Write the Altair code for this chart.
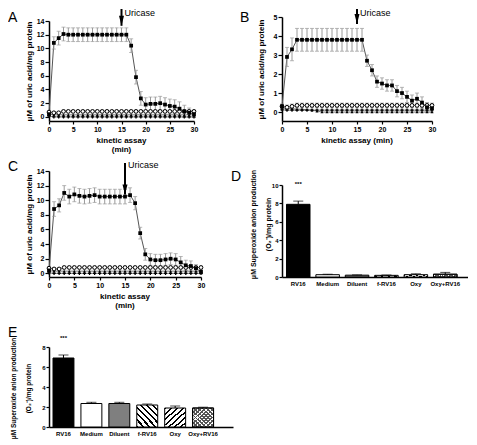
import altair as alt
import pandas as pd

FONT = "Liberation Sans"
GREY = "#9a9a9a"

# ---------------- data ----------------
minutes = [0, 1, 2, 3, 4, 5, 6, 7, 8, 9, 10, 11, 12, 13, 14, 15,
           16, 17, 18, 19, 20, 21, 22, 23, 24, 25, 26, 27, 28, 29, 30]

# Panel A
a_rv16 = [0.4, 10.8, 11.5, 12.1, 12.0, 12.0, 12.0, 12.0, 12.0, 12.0,
          12.0, 12.0, 12.0, 12.0, 12.0, 12.0, 12.0, 10.4, 5.8, 2.7,
          1.8, 1.9, 1.9, 2.0, 1.8, 1.6, 1.5, 1.2, 0.8, 0.6,
          0.4]
a_rv16_sem = [0.3, 0.9, 1.0, 1.0, 1.0, 1.0, 1.0, 1.0, 1.0, 1.0,
              1.0, 1.0, 1.0, 1.0, 1.0, 1.0, 1.0, 1.0, 1.0, 1.0,
              1.0, 1.0, 1.0, 1.0, 1.0, 1.0, 1.0, 1.0, 0.9, 0.7,
              0.5]
a_open = [0.7, 0.6, 0.6, 0.8, 0.8, 0.8, 0.8, 0.8, 0.8, 0.8,
          0.8, 0.8, 0.8, 0.8, 0.8, 0.8, 0.8, 0.8, 0.8, 0.8,
          0.8, 0.8, 0.8, 0.8, 0.8, 0.8, 0.8, 0.8, 0.8, 0.8,
          0.8]
a_open_sem = [0.2, 0.2, 0.2, 0.2, 0.2, 0.2, 0.2, 0.2, 0.2, 0.2,
              0.2, 0.2, 0.2, 0.2, 0.2, 0.2, 0.2, 0.2, 0.2, 0.2,
              0.2, 0.2, 0.2, 0.2, 0.2, 0.2, 0.2, 0.2, 0.2, 0.2,
              0.2]
a_tri = [0.4, 0.3, 0.3, 0.3, 0.3, 0.3, 0.3, 0.3, 0.3, 0.3,
         0.3, 0.3, 0.3, 0.3, 0.3, 0.3, 0.3, 0.3, 0.3, 0.3,
         0.3, 0.3, 0.3, 0.3, 0.3, 0.3, 0.3, 0.3, 0.3, 0.3,
         0.3]
a_cross = [0.1, 0.0, 0.0, 0.0, 0.0, 0.0, 0.0, 0.0, 0.0, 0.0,
           0.0, 0.0, 0.0, 0.0, 0.0, 0.0, 0.0, 0.0, 0.0, 0.0,
           0.0, 0.0, 0.0, 0.0, 0.0, 0.0, 0.0, 0.0, 0.0, 0.0,
           0.0]

# Panel B
b_rv16 = [0.3, 2.9, 3.3, 3.8, 3.8, 3.8, 3.8, 3.8, 3.8, 3.8,
          3.8, 3.8, 3.8, 3.8, 3.8, 3.8, 3.8, 2.7, 2.2, 1.6,
          1.5, 1.4, 1.4, 1.1, 1.0, 0.8, 0.6, 0.7, 0.5, 0.25,
          0.2]
b_rv16_sem = [0.1, 0.5, 0.6, 0.6, 0.6, 0.6, 0.6, 0.6, 0.6, 0.6,
              0.6, 0.6, 0.6, 0.6, 0.6, 0.6, 0.6, 0.3, 0.3, 0.3,
              0.3, 0.3, 0.3, 0.3, 0.3, 0.3, 0.3, 0.3, 0.3, 0.25,
              0.2]
b_open = [0.3, 0.25, 0.3, 0.35, 0.35, 0.35, 0.35, 0.35, 0.35, 0.35,
          0.35, 0.35, 0.35, 0.35, 0.35, 0.35, 0.35, 0.35, 0.35, 0.35,
          0.35, 0.35, 0.35, 0.35, 0.35, 0.35, 0.35, 0.35, 0.35, 0.35,
          0.35]
b_open_sem = [0.12, 0.12, 0.12, 0.12, 0.12, 0.12, 0.12, 0.12, 0.12, 0.12,
              0.12, 0.12, 0.12, 0.12, 0.12, 0.12, 0.12, 0.12, 0.12, 0.12,
              0.12, 0.12, 0.12, 0.12, 0.12, 0.12, 0.12, 0.12, 0.12, 0.12,
              0.12]
b_tri = [0.2, 0.2, 0.18, 0.15, 0.15, 0.12, 0.1, 0.05, 0.0, 0.0,
         0.0, 0.0, 0.0, 0.0, 0.0, 0.0, 0.0, 0.0, 0.0, 0.0,
         0.0, 0.0, 0.0, 0.0, 0.0, 0.0, 0.0, 0.0, 0.0, 0.0,
         0.0]
b_cross = [0.12, 0.1, 0.1, 0.1, 0.1, 0.1, 0.1, 0.1, 0.1, 0.1,
           0.1, 0.1, 0.1, 0.1, 0.1, 0.1, 0.1, 0.1, 0.1, 0.1,
           0.1, 0.1, 0.1, 0.1, 0.1, 0.1, 0.1, 0.1, 0.1, 0.1,
           0.1]

# Panel C
c_rv16 = [0.4, 8.8, 9.3, 11.0, 10.5, 10.8, 10.6, 10.5, 10.6, 10.7,
          10.5, 10.5, 10.5, 10.5, 10.5, 10.5, 10.7, 9.6, 5.5, 2.6,
          1.9, 1.8, 1.8, 1.9, 2.0, 1.9, 1.5, 1.1, 1.0, 0.7,
          0.2]
c_rv16_sem = [0.3, 1.0, 0.9, 1.0, 1.0, 1.0, 1.0, 1.0, 1.0, 1.0,
              1.0, 1.0, 1.0, 1.0, 1.0, 1.0, 1.0, 0.9, 0.8, 0.8,
              0.8, 0.8, 0.8, 0.8, 0.8, 0.8, 0.8, 0.7, 0.7, 0.5,
              0.3]
c_open = [0.7, 0.6, 0.6, 0.8, 0.8, 0.8, 0.8, 0.8, 0.8, 0.8,
          0.8, 0.8, 0.8, 0.8, 0.8, 0.8, 0.8, 0.8, 0.8, 0.8,
          0.8, 0.8, 0.8, 0.8, 0.8, 0.8, 0.8, 0.8, 0.8, 0.8,
          0.8]
c_open_sem = [0.2, 0.2, 0.2, 0.2, 0.2, 0.2, 0.2, 0.2, 0.2, 0.2,
              0.2, 0.2, 0.2, 0.2, 0.2, 0.2, 0.2, 0.2, 0.2, 0.2,
              0.2, 0.2, 0.2, 0.2, 0.2, 0.2, 0.2, 0.2, 0.2, 0.2,
              0.2]
c_tri = [0.35, 0.3, 0.3, 0.3, 0.3, 0.3, 0.3, 0.3, 0.3, 0.3,
         0.3, 0.3, 0.3, 0.3, 0.3, 0.3, 0.3, 0.3, 0.3, 0.3,
         0.3, 0.3, 0.3, 0.3, 0.3, 0.3, 0.3, 0.3, 0.3, 0.3,
         0.3]
c_cross = [0.05, 0.0, 0.0, 0.0, 0.0, 0.0, 0.0, 0.0, 0.0, 0.0,
           0.0, 0.0, 0.0, 0.0, 0.0, 0.0, 0.0, 0.0, 0.0, 0.0,
           0.0, 0.0, 0.0, 0.0, 0.0, 0.0, 0.0, 0.0, 0.0, 0.0,
           0.0]

# Panels D and E
conditions = ["RV16", "Medium", "Diluent", "f-RV16", "Oxy", "Oxy+RV16"]
d_vals = [7.9, 0.25, 0.2, 0.18, 0.25, 0.3]
d_sem = [0.35, 0.05, 0.03, 0.04, 0.1, 0.2]
e_vals = [6.9, 2.35, 2.35, 2.2, 1.9, 1.9]
e_sem = [0.3, 0.12, 0.12, 0.1, 0.2, 0.08]
star_labels = ["***", "", "", "", "", ""]

uric_title = "μM of uric acid/mg protein"
x_title_lines = ["kinetic assay", "(min)"]
x_title_one_line = ["kinetic assay (min)"]
sox_title = ["μM Superoxide anion production", "(O₂⁻)/mg protein"]


# ---------------- helpers ----------------
def stripes(direction, color, n, frac, bg="white"):
    stops = []
    for i in range(n):
        a = i / n
        b = (i + frac) / n
        c = (i + 1) / n
        stops += [alt.GradientStop(color=color, offset=a),
                  alt.GradientStop(color=color, offset=b),
                  alt.GradientStop(color=bg, offset=b),
                  alt.GradientStop(color=bg, offset=c)]
    if direction == "back":   # "\\\\" lines
        x1, y1, x2, y2 = 0, 1, 1, 0
    else:                     # "////" lines
        x1, y1, x2, y2 = 0, 0, 1, 1
    return alt.LinearGradient(gradient="linear", stops=stops,
                              x1=x1, y1=y1, x2=x2, y2=y2)


def kinetic_panel(main, sem, opn, opn_sem, tri, crs, ydom, yrange, yticks,
                  xend, tip, text_base, shaft_top, letter, lx, lb, tpad,
                  width, height, title_lines):
    df = pd.DataFrame({
        "minute": minutes,
        "main": main,
        "lo": [m - s for m, s in zip(main, sem)],
        "hi": [m + s for m, s in zip(main, sem)],
        "opn": opn,
        "olo": [m - s for m, s in zip(opn, opn_sem)],
        "ohi": [m + s for m, s in zip(opn, opn_sem)],
        "tri": tri,
        "crs": crs,
    })
    xs = alt.Scale(domain=[0, 30], range=[0, xend], nice=False, zero=False)
    ys = alt.Scale(domain=ydom, range=yrange, nice=False, zero=False)
    xa = alt.Axis(values=[0, 5, 10, 15, 20, 25, 30], title=None, tickSize=3)
    ya = alt.Axis(values=yticks, title=uric_title, titlePadding=tpad,
                  tickSize=4)

    def X(f):
        return alt.X(f, type="quantitative", scale=xs, axis=xa)

    def Y(f):
        return alt.Y(f, type="quantitative", scale=ys, axis=ya)

    base = alt.Chart(df)
    layers = [
        base.mark_line(color="#555555", strokeWidth=1).encode(x=X("minute"), y=Y("main")),
        base.mark_rule(color=GREY, strokeWidth=1).encode(x=X("minute"), y=Y("lo"), y2="hi:Q"),
        base.mark_tick(orient="horizontal", size=4, thickness=1, color=GREY).encode(x=X("minute"), y=Y("lo")),
        base.mark_tick(orient="horizontal", size=4, thickness=1, color=GREY).encode(x=X("minute"), y=Y("hi")),
        base.mark_rule(color=GREY, strokeWidth=1).encode(x=X("minute"), y=Y("olo"), y2="ohi:Q"),
        base.mark_tick(orient="horizontal", size=4, thickness=1, color=GREY).encode(x=X("minute"), y=Y("olo")),
        base.mark_tick(orient="horizontal", size=4, thickness=1, color=GREY).encode(x=X("minute"), y=Y("ohi")),
        base.mark_line(color="#555555", strokeWidth=0.8).encode(x=X("minute"), y=Y("crs")),
        base.mark_line(color="#555555", strokeWidth=0.8).encode(x=X("minute"), y=Y("tri")),
        base.mark_line(color="#555555", strokeWidth=0.8).encode(x=X("minute"), y=Y("opn")),
        base.mark_point(shape="cross", filled=True, size=10, color="black", opacity=1).encode(x=X("minute"), y=Y("crs")),
        base.mark_point(shape="triangle-up", filled=True, size=9, color="black", opacity=1).encode(x=X("minute"), y=Y("tri")),
        base.mark_point(shape="circle", filled=True, fill="white", stroke="black", strokeWidth=1, size=14, opacity=1).encode(x=X("minute"), y=Y("opn")),
        base.mark_point(shape="square", filled=True, size=14, color="black", opacity=1).encode(x=X("minute"), y=Y("main")),
    ]
    ann = alt.Chart(pd.DataFrame({"t": [15], "tip": [tip], "label": ["Uricase"]}))
    offs = [height + 20, height + 29][:len(title_lines)]
    ttl = alt.Chart(pd.DataFrame({"t": [15] * len(title_lines), "line": title_lines,
                                  "off": offs}))
    layers += [
        ann.mark_rule(color="black", strokeWidth=2).encode(x=X("t"), y=Y("tip"), y2=alt.value(shaft_top)),
        ann.mark_point(shape="M-0.5,-2L0.5,-2L0,0Z", filled=True, size=100,
                       color="black", opacity=1, strokeWidth=0).encode(x=X("t"), y=Y("tip")),
        ann.mark_text(align="left", baseline="alphabetic", dx=3, fontSize=9,
                      font=FONT, color="black").encode(x=X("t"), y=alt.value(text_base), text="label:N"),
        ttl.mark_text(align="center", baseline="middle", fontSize=8, fontWeight="bold",
                      font=FONT, color="black").encode(
            x=X("t"), y=alt.value(0),
            yOffset=alt.YOffset("off:Q", scale=None), text="line:N"),
    ]
    let = alt.Chart(pd.DataFrame({"letter": [letter]}))
    layers.append(let.mark_text(align="left", baseline="alphabetic", fontSize=14,
                                font=FONT, color="black").encode(
        x=alt.value(lx), y=alt.value(lb), text="letter:N"))
    return alt.layer(*layers).properties(width=width, height=height)


FILLS = {
    "RV16": "black",
    "Medium": "white",
    "Diluent": "#7f7f7f",
    "f-RV16": stripes("back", "black", 7, 0.35),
    "Oxy": stripes("fwd", "black", 7, 0.35),
    "Oxy+RV16": stripes("back", "#555555", 10, 0.4),
}
OVERLAY = stripes("fwd", "#555555", 10, 0.4, bg="rgba(0,0,0,0)")


def bar_panel(vals, sem, ydom, yrange, yticks, xrange, pad_inner, pad_outer,
              align, title_size, title_pad, title_lh, title_y, label_size,
              cap, star_dy, letter, lx, lb, width, height):
    df = pd.DataFrame({
        "cond": conditions,
        "val": vals,
        "hi": [v + s for v, s in zip(vals, sem)],
        "stars": star_labels,
    })
    xs = alt.Scale(domain=conditions, range=xrange, paddingInner=pad_inner,
                   paddingOuter=pad_outer, align=align)
    ys = alt.Scale(domain=ydom, range=yrange, nice=False, zero=False)
    xa = alt.Axis(title=None, labelAngle=0, ticks=False, labelFontSize=6,
                  labelPadding=3)
    ya = alt.Axis(values=yticks, title=sox_title, titleFontSize=title_size,
                  titlePadding=title_pad, titleLineHeight=title_lh,
                  titleY=title_y, labelFontSize=label_size, tickSize=3)

    def X(f):
        return alt.X(f, type="nominal", scale=xs, axis=xa)

    def Y(f):
        return alt.Y(f, type="quantitative", scale=ys, axis=ya)

    base = alt.Chart(df)
    layers = []
    for c in conditions:
        layers.append(base.transform_filter(alt.datum.cond == c).mark_bar(
            fill=FILLS[c], stroke="black", strokeWidth=1).encode(x=X("cond"), y=Y("val")))
    layers.append(base.transform_filter(alt.datum.cond == "Oxy+RV16").mark_bar(
        fill=OVERLAY, stroke="black", strokeWidth=1).encode(x=X("cond"), y=Y("val")))
    layers += [
        base.mark_rule(color="black", strokeWidth=1).encode(x=X("cond"), y=Y("val"), y2="hi:Q"),
        base.mark_tick(orient="horizontal", size=cap, thickness=1, color="black").encode(x=X("cond"), y=Y("hi")),
        base.transform_filter(alt.datum.stars != "").mark_text(
            fontSize=6, fontWeight="bold", font=FONT, color="black",
            baseline="middle", dy=star_dy).encode(x=X("cond"), y=Y("hi"), text="stars:N"),
    ]
    let = alt.Chart(pd.DataFrame({"letter": [letter]}))
    layers.append(let.mark_text(align="left", baseline="alphabetic", fontSize=14,
                                font=FONT, color="black").encode(
        x=alt.value(lx), y=alt.value(lb), text="letter:N"))
    return alt.layer(*layers).properties(width=width, height=height)


# ---------------- panels ----------------
panel_a = kinetic_panel(a_rv16, a_rv16_sem, a_open, a_open_sem, a_tri, a_cross,
                        [-0.6, 14], [104, 4], [0, 2, 4, 6, 8, 10, 12, 14],
                        145, 13.3, -1, -8, "A", -41, 5, 3, 185, 104,
                        x_title_lines)
# panel B's x title is set on one line, in the spot where it stays visible
panel_b = kinetic_panel(b_rv16, b_rv16_sem, b_open, b_open_sem, b_tri, b_cross,
                        [-0.47, 5], [104, 0], [0, 1, 2, 3, 4, 5],
                        150, 4.63, -1, -8, "B", -42, 5, 8, 186, 104,
                        x_title_one_line)
panel_c = kinetic_panel(c_rv16, c_rv16_sem, c_open, c_open_sem, c_tri, c_cross,
                        [-0.5, 14], [106, 0], [0, 2, 4, 6, 8, 10, 12, 14],
                        152, 10.78, -3, -8, "C", -41, 0, 3, 185, 106,
                        x_title_lines)
panel_d = bar_panel(d_vals, d_sem, [0, 10], [106, 14], [0, 2, 4, 6, 8, 10],
                    [0, 186], 0.2, 0.263, 0.29, 7, 0, 15, 53, 6, 10, -17,
                    "D", -51, 10, 186, 106)
panel_e = bar_panel(e_vals, e_sem, [0, 8], [100, 20], [0, 2, 4, 6, 8],
                    [0, 184], 0.25, 0.42, 0.171, 6.5, 10, 15, 61, 6, 10, -17,
                    "E", -41, 10, 185, 100)

chart = alt.concat(
    panel_a, panel_b, panel_c, panel_d, panel_e,
    columns=2, spacing={"row": 50, "column": 48}, bounds="flush",
).properties(padding=0).configure_view(stroke=None).configure_axis(
    domainColor="black", domainWidth=1.5, tickColor="black", tickWidth=1.2,
    labelFont=FONT, labelFontSize=7, labelFontWeight="bold", labelColor="black",
    titleFont=FONT, titleFontSize=8, titleFontWeight="bold", titleColor="black",
    grid=False, labelPadding=1, labelFlush=False, labelOverlap=False,
)

chart.save("out.html", embed_options={"renderer": "svg", "actions": False})
